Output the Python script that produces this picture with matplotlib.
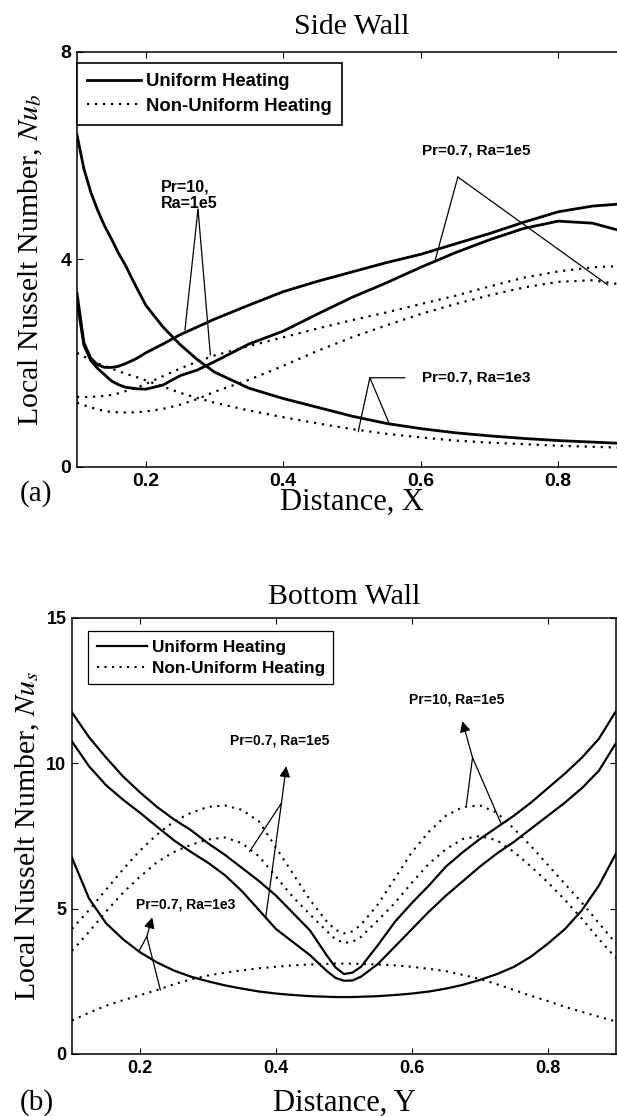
import matplotlib
matplotlib.use('Agg')
import matplotlib.pyplot as plt

plt.rcParams['font.family'] = ['Liberation Sans', 'DejaVu Sans']
plt.rcParams['mathtext.fontset'] = 'stix'

SERIF = ['Liberation Serif', 'DejaVu Serif']

# ---- (a) side wall ----
x_side = [0.1, 0.11, 0.12, 0.13, 0.14, 0.15, 0.16, 0.17, 0.185, 0.2, 0.225, 0.25, 0.275, 0.3,
          0.35, 0.4, 0.45, 0.5, 0.55, 0.6, 0.65, 0.7, 0.75, 0.8, 0.85, 0.9]
side_uni_pr07_ra1e3 = [6.4, 5.75, 5.3, 4.95, 4.65, 4.4, 4.13, 3.9, 3.5, 3.12, 2.7, 2.36, 2.07, 1.83,
                       1.52, 1.32, 1.15, 0.98, 0.84, 0.74, 0.66, 0.6, 0.55, 0.51, 0.48, 0.45]
side_uni_pr10_ra1e5 = [3.35, 2.4, 2.1, 1.97, 1.92, 1.92, 1.94, 1.99, 2.08, 2.2, 2.37, 2.55, 2.7, 2.85,
                       3.12, 3.38, 3.58, 3.76, 3.94, 4.1, 4.3, 4.5, 4.72, 4.92, 5.03, 5.08]
side_uni_pr07_ra1e5 = [3.2, 2.35, 2.05, 1.9, 1.78, 1.66, 1.59, 1.54, 1.51, 1.5, 1.58, 1.76, 1.87, 2.03,
                       2.37, 2.62, 2.95, 3.27, 3.55, 3.85, 4.13, 4.38, 4.6, 4.74, 4.7, 4.52]
side_non_pr07_ra1e3 = [2.2, 2.13, 2.06, 2.0, 1.95, 1.9, 1.85, 1.8, 1.74, 1.67, 1.55, 1.43, 1.33, 1.24,
                       1.09, 0.96, 0.84, 0.73, 0.64, 0.57, 0.51, 0.47, 0.44, 0.41, 0.39, 0.37]
side_non_pr10_ra1e5 = [1.35, 1.35, 1.35, 1.36, 1.37, 1.39, 1.42, 1.46, 1.52, 1.6, 1.75, 1.9, 2.03, 2.15,
                       2.33, 2.5, 2.67, 2.83, 2.98, 3.14, 3.3, 3.48, 3.65, 3.77, 3.85, 3.88]
side_non_pr07_ra1e5 = [1.24, 1.19, 1.15, 1.11, 1.08, 1.06, 1.055, 1.05, 1.055, 1.07, 1.12, 1.2, 1.31, 1.45,
                       1.68, 1.95, 2.24, 2.5, 2.73, 2.95, 3.14, 3.31, 3.46, 3.57, 3.6, 3.5]

# ---- (b) bottom wall ----
x_bottom = [0.1, 0.125, 0.15, 0.175, 0.2, 0.225, 0.25, 0.275, 0.3, 0.325, 0.35,
            0.375, 0.4, 0.425, 0.45, 0.475, 0.4875, 0.5, 0.5125, 0.525, 0.55, 0.575, 0.6, 0.625,
            0.65, 0.675, 0.7, 0.725, 0.75, 0.775, 0.8, 0.825, 0.85, 0.875, 0.9]
bot_uni_pr10_ra1e5 = [11.75, 10.9, 10.2, 9.55, 9.0, 8.5, 8.07, 7.7, 7.25, 6.85, 6.4,
                      5.95, 5.45, 4.85, 4.25, 3.38, 2.98, 2.75, 2.8, 3.0, 3.75, 4.55, 5.2, 5.8,
                      6.45, 6.95, 7.4, 7.8, 8.2, 8.65, 9.15, 9.65, 10.2, 10.85, 11.8]
bot_uni_pr07_ra1e5 = [10.75, 9.9, 9.25, 8.75, 8.3, 7.82, 7.35, 6.95, 6.58, 6.15, 5.6,
                      4.95, 4.3, 3.85, 3.4, 2.85, 2.62, 2.52, 2.53, 2.66, 3.1, 3.7, 4.3, 4.9,
                      5.45, 5.95, 6.45, 6.9, 7.3, 7.75, 8.2, 8.65, 9.15, 9.75, 10.7]
bot_uni_pr07_ra1e3 = [6.75, 5.35, 4.5, 3.95, 3.5, 3.15, 2.87, 2.66, 2.5, 2.36, 2.25,
                      2.15, 2.08, 2.03, 1.99, 1.97, 1.96, 1.96, 1.96, 1.97, 1.99, 2.03, 2.08, 2.15,
                      2.25, 2.38, 2.55, 2.75, 3.0, 3.35, 3.8, 4.3, 4.95, 5.8, 6.9]
bot_non_pr07_ra1e3 = [1.15, 1.42, 1.66, 1.85, 2.02, 2.2, 2.4, 2.57, 2.7, 2.8, 2.88,
                      2.95, 3.0, 3.05, 3.08, 3.1, 3.11, 3.11, 3.11, 3.1, 3.08, 3.05, 3.0, 2.93,
                      2.85, 2.72, 2.58, 2.4, 2.2, 2.0, 1.82, 1.62, 1.45, 1.28, 1.12]
bot_non_pr10_ra1e5 = [4.3, 4.95, 5.65, 6.35, 7.0, 7.55, 8.0, 8.3, 8.5, 8.55, 8.4,
                      8.0, 7.1, 6.2, 5.3, 4.55, 4.27, 4.15, 4.22, 4.45, 5.15, 6.05, 6.95, 7.65,
                      8.2, 8.5, 8.55, 8.3, 7.75, 7.15, 6.5, 5.85, 5.2, 4.5, 3.8]
bot_non_pr07_ra1e5 = [3.55, 4.2, 4.9, 5.55, 6.1, 6.6, 6.95, 7.2, 7.38, 7.45, 7.25,
                      6.8, 6.1, 5.4, 4.8, 4.22, 3.95, 3.82, 3.86, 4.03, 4.6, 5.2, 5.9, 6.55,
                      7.05, 7.4, 7.5, 7.35, 6.95, 6.45, 5.9, 5.3, 4.65, 3.95, 3.3]

x_ticks = [0.2, 0.4, 0.6, 0.8]
x_ticklabels = ['0.2', '0.4', '0.6', '0.8']
side_yticks = [0, 4, 8]
bot_yticks = [0, 5, 10, 15]

fig = plt.figure(figsize=(6.17, 11.16), dpi=100)
ax1 = fig.add_axes([77/617, 1-467/1116, 550/617, 415/1116])
ax2 = fig.add_axes([72/617, 1-1054/1116, 544/617, 436/1116])

dot = (0, (1, 2.6))

# side wall curves
s1, = ax1.plot(x_side, side_uni_pr07_ra1e3, 'k-', lw=2)
ax1.plot(x_side, side_uni_pr10_ra1e5, 'k-', lw=2)
ax1.plot(x_side, side_uni_pr07_ra1e5, 'k-', lw=2)
d1, = ax1.plot(x_side, side_non_pr07_ra1e3, color='k', ls=dot, lw=1.6)
ax1.plot(x_side, side_non_pr10_ra1e5, color='k', ls=dot, lw=1.6)
ax1.plot(x_side, side_non_pr07_ra1e5, color='k', ls=dot, lw=1.6)

# bottom wall curves
s2, = ax2.plot(x_bottom, bot_uni_pr10_ra1e5, 'k-', lw=1.6)
ax2.plot(x_bottom, bot_uni_pr07_ra1e5, 'k-', lw=1.6)
ax2.plot(x_bottom, bot_uni_pr07_ra1e3, 'k-', lw=1.6)
d2, = ax2.plot(x_bottom, bot_non_pr10_ra1e5, color='k', ls=dot, lw=1.5)
ax2.plot(x_bottom, bot_non_pr07_ra1e5, color='k', ls=dot, lw=1.5)
ax2.plot(x_bottom, bot_non_pr07_ra1e3, color='k', ls=dot, lw=1.5)

for ax, yt, ylim, fs in [(ax1, side_yticks, (0, 8), 14), (ax2, bot_yticks, (0, 15), 13)]:
    ax.set_xlim(0.1, 0.9)
    ax.set_ylim(*ylim)
    ax.set_xticks(x_ticks, x_ticklabels, fontsize=fs, fontweight='bold')
    ax.set_yticks(yt, [str(v) for v in yt], fontsize=fs, fontweight='bold')
    ax.tick_params(direction='in', top=True, right=True, length=4, width=0.8, pad=4)
    for sp in ax.spines.values():
        sp.set_linewidth(1.1)

ax1.set_title('Side Wall', fontsize=21.5, family=SERIF, pad=13)
ax2.set_title('Bottom Wall', fontsize=21.5, family=SERIF, pad=10)
ax1.set_ylabel('Local Nusselt Number, $Nu_b$', fontsize=21.5, family=SERIF)
ax2.set_ylabel('Local Nusselt Number, $Nu_s$', fontsize=21.5, family=SERIF)
ax1.yaxis.set_label_coords(-0.058, 0.5)
ax2.yaxis.set_label_coords(-0.055, 0.5)
ax1.set_xlabel('Distance, X', fontsize=22, family=SERIF)
ax2.set_xlabel('Distance, Y', fontsize=22, family=SERIF)
ax1.xaxis.set_label_coords(0.5, -0.05)
ax2.xaxis.set_label_coords(0.5, -0.08)

fig.text(20/617, 1-494/1116, '(a)', fontsize=21, family=SERIF, va='center')
fig.text(20/617, 1-1103/1116, '(b)', fontsize=21, family=SERIF, va='center')

leg1 = ax1.legend([s1, d1], ['Uniform Heating', 'Non-Uniform Heating'], loc='upper left',
                  bbox_to_anchor=(0.0, (467-63)/415), borderaxespad=0, fancybox=False,
                  edgecolor='k', framealpha=1, handlelength=2.9, handletextpad=0.3,
                  borderpad=0.55, labelspacing=0.42,
                  prop={'size': 13.3, 'weight': 'bold'})
leg1.get_frame().set_linewidth(1.2)
leg2 = ax2.legend([s2, d2], ['Uniform Heating', 'Non-Uniform Heating'], loc='upper left',
                  bbox_to_anchor=(16/544, (1054-631)/436), borderaxespad=0, fancybox=False,
                  edgecolor='k', framealpha=1, handlelength=2.9, handletextpad=0.3,
                  borderpad=0.5, labelspacing=0.35,
                  prop={'size': 12.4, 'weight': 'bold'})
leg2.get_frame().set_linewidth(0.9)

# side wall annotations
line = dict(arrowstyle='-', lw=0.9, color='k', shrinkA=0, shrinkB=0)
ax1.text(0.222, 5.24, 'Pr=10,\nRa=1e5', fontsize=11.5, fontweight='bold', va='center',
         ha='left', linespacing=1.1)
ax1.annotate('', xy=(0.257, 2.64), xytext=(0.276, 4.97), arrowprops=line)
ax1.annotate('', xy=(0.294, 2.16), xytext=(0.276, 4.97), arrowprops=line)
ax1.text(0.68, 6.11, 'Pr=0.7, Ra=1e5', fontsize=11, fontweight='bold', va='center', ha='center')
ax1.annotate('', xy=(0.621, 3.99), xytext=(0.654, 5.59), arrowprops=line)
ax1.annotate('', xy=(0.872, 3.51), xytext=(0.654, 5.59), arrowprops=line)
ax1.text(0.602, 1.72, 'Pr=0.7, Ra=1e3', fontsize=11, fontweight='bold', va='center', ha='left')
ax1.annotate('', xy=(0.577, 1.72), xytext=(0.526, 1.72), arrowprops=line)
ax1.annotate('', xy=(0.509, 0.68), xytext=(0.526, 1.72), arrowprops=line)
ax1.annotate('', xy=(0.555, 0.81), xytext=(0.526, 1.72), arrowprops=line)

# bottom wall annotations
arrow = dict(arrowstyle='-|>', lw=0.9, color='k', shrinkA=0, shrinkB=0, mutation_scale=16)
ax2.text(0.405, 10.8, 'Pr=0.7, Ra=1e5', fontsize=10, fontweight='bold', va='center', ha='center')
ax2.annotate('', xy=(0.408, 8.63), xytext=(0.361, 6.96), arrowprops=line)
ax2.annotate('', xy=(0.408, 8.63), xytext=(0.385, 4.72), arrowprops=line)
ax2.annotate('', xy=(0.415, 9.9), xytext=(0.408, 8.63), arrowprops=arrow)
ax2.text(0.665, 12.18, 'Pr=10, Ra=1e5', fontsize=10, fontweight='bold', va='center', ha='center')
ax2.annotate('', xy=(0.689, 10.2), xytext=(0.68, 8.57), arrowprops=line)
ax2.annotate('', xy=(0.689, 10.2), xytext=(0.731, 7.93), arrowprops=line)
ax2.annotate('', xy=(0.674, 11.45), xytext=(0.689, 10.2), arrowprops=arrow)
ax2.text(0.267, 5.13, 'Pr=0.7, Ra=1e3', fontsize=10, fontweight='bold', va='center', ha='center')
ax2.annotate('', xy=(0.21, 4.04), xytext=(0.198, 3.52), arrowprops=line)
ax2.annotate('', xy=(0.21, 4.04), xytext=(0.23, 2.2), arrowprops=line)
ax2.annotate('', xy=(0.218, 4.7), xytext=(0.21, 4.04), arrowprops=arrow)

fig.savefig('out.png', dpi=100)
